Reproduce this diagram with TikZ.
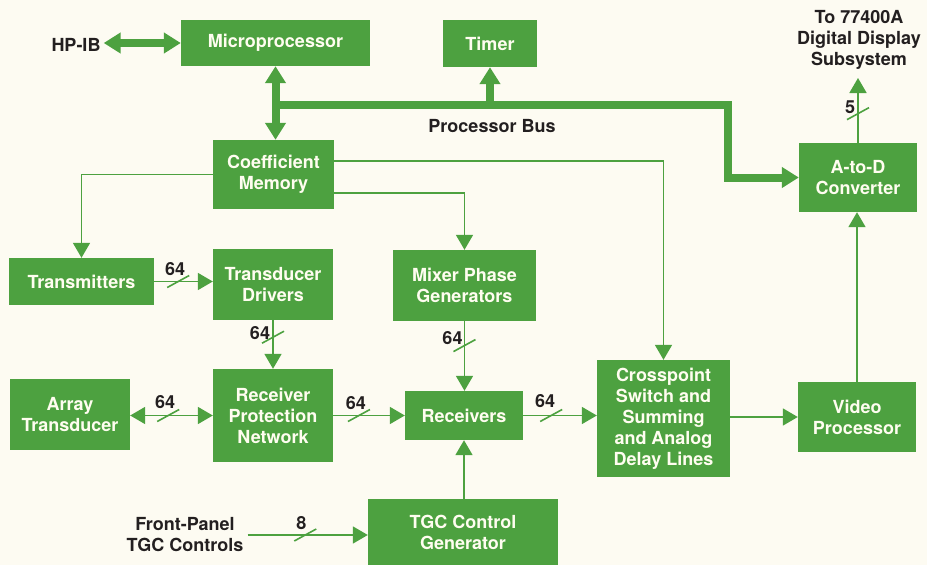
\documentclass[tikz,border=0pt]{standalone}
\usepackage{fontspec}
\setmainfont{TeX Gyre Heros}
\usetikzlibrary{arrows.meta,calc}
\definecolor{hpgreen}{RGB}{77,161,64}
\definecolor{paper}{RGB}{253,251,242}
\definecolor{ink}{RGB}{35,31,32}
\definecolor{boxtext}{RGB}{255,253,240}
\tikzset{
  thintip/.tip={Triangle[length=15pt,width=17pt]},
  bustip/.tip={Triangle[length=17pt,width=20pt]},
  box/.style={fill=hpgreen, text=boxtext, font=\fontsize{18}{21}\selectfont\bfseries, align=center, inner sep=0pt},
  lbl/.style={text=ink, font=\fontsize{18}{21}\selectfont\bfseries, align=center, inner sep=0pt},
  conn/.style={draw=hpgreen, line width=1.8pt},
  bus/.style={draw=hpgreen, line width=8pt},
  slashst/.style={draw=hpgreen, line width=1.6pt}
}
\begin{document}
\begin{tikzpicture}[x=1pt,y=-1pt]
\fill[paper] (0,0) rectangle (927,565);
\useasboundingbox (0,0) rectangle (927,565);

% boxes
\node[box,minimum width=189pt,minimum height=46pt] (micro) at (275.5,43) {Microprocessor};
\node[box,minimum width=94pt,minimum height=47pt] (timer) at (490,43.5) {Timer};
\node[box,minimum width=121pt,minimum height=69pt] (coef) at (273.5,174.5) {Coefficient\\Memory};
\node[box,minimum width=118pt,minimum height=69pt] (atod) at (858,177.5) {A-to-D\\Converter};
\node[box,minimum width=145pt,minimum height=47pt] (trans) at (81.5,281.5) {Transmitters};
\node[box,minimum width=120pt,minimum height=71pt] (drivers) at (273,284.5) {Transducer\\Drivers};
\node[box,minimum width=143pt,minimum height=71pt] (mixer) at (464.5,285.5) {Mixer Phase\\Generators};
\node[box,minimum width=120pt,minimum height=71pt] (array) at (70,414.5) {Array\\Transducer};
\node[box,minimum width=120pt,minimum height=93pt] (rpn) at (273,415.5) {Receiver\\Protection\\Network};
\node[box,minimum width=118pt,minimum height=49pt] (recv) at (464,415.5) {Receivers};
\node[box,minimum width=133pt,minimum height=117pt] (cross) at (663.5,418.5) {Crosspoint\\Switch and\\Summing\\and Analog\\Delay Lines};
\node[box,minimum width=118pt,minimum height=70pt] (video) at (857,417) {Video\\Processor};
\node[box,minimum width=190pt,minimum height=66pt] (tgc) at (463,532) {TGC Control\\Generator};

% free labels
\node[lbl] (hpib) at (76,45) {HP-IB};
\node[lbl] (pbus) at (492,126) {Processor Bus};
\node[lbl] (fp) at (185,535) {Front-Panel\\TGC Controls};
\node[lbl] (disp) at (859,40) {To 77400A\\Digital Display\\Subsystem};
\coordinate (outtip) at (858,78);

% processor bus (thick)
\draw[bus,{bustip}-{bustip}] ([xshift=3pt]hpib.east |- micro.west) -- (micro.west);
\draw[bus,{bustip}-{bustip}] (micro.south) -- (micro.south |- coef.north);
\coordinate (busL) at (micro.south |- 0,105);
\coordinate (busR) at (728,105);
\draw[bus,-{bustip}] (busL) -- (busR) |- (atod.west);
\draw[bus,-{bustip}] (timer.south |- busL) -- (timer.south);

% thin connectors
\draw[conn,-{thintip}] (coef.west) -| (trans.north);
\draw[conn,-{thintip}] ([yshift=-18.5pt]coef.east) -| (mixer.north);
\draw[conn,-{thintip}] ([yshift=13.5pt]coef.east) -| (cross.north);
\draw[conn,-{thintip}] (trans.east) -- coordinate[pos=0.41] (s1) (trans.east -| drivers.west);
\draw[conn,-{thintip}] (drivers.south) -- coordinate[pos=0.35] (s2) (rpn.north);
\draw[conn,{thintip}-{thintip}] (array.east |- rpn.west) -- coordinate[pos=0.46] (s3) (rpn.west);
\draw[conn,-{thintip}] (rpn.east |- recv.west) -- coordinate[pos=0.36] (s4) (recv.west);
\draw[conn,-{thintip}] (recv.east) -- coordinate[pos=0.38] (s5) (recv.east -| cross.west);
\draw[conn,-{thintip}] (mixer.south) -- coordinate[pos=0.35] (s6) (mixer.south |- recv.north);
\draw[conn,-{thintip}] (tgc.north -| recv.south) -- (recv.south);
\draw[conn,-{thintip}] ([xshift=4pt]fp.east) -- coordinate[pos=0.48] (s7) (fp.east -| tgc.west);
\draw[conn,-{thintip}] (cross.east |- video.west) -- (video.west);
\draw[conn,-{thintip}] (video.north) -- (video.north |- atod.south);
\draw[conn,-{thintip}] (atod.north) -- coordinate[pos=0.45] (s8) (outtip);

% bus-width slashes
\foreach \s in {s1,s2,s3,s4,s5,s6,s7,s8}
  \draw[slashst] ([shift={(-11,6)}]\s) -- ([shift={(11,-6)}]\s);

% bus-width labels
\node[lbl] (l1) at ([shift={(-3,-12)}]s1) {64};
\node[lbl] (l2) at ([shift={(-13,-4)}]s2) {64};
\node[lbl] (l3) at ([shift={(-3,-13)}]s3) {64};
\node[lbl] (l4) at ([shift={(-3,-12)}]s4) {64};
\node[lbl] (l5) at ([shift={(-6,-14)}]s5) {64};
\node[lbl] (l6) at ([shift={(-12,-7)}]s6) {64};
\node[lbl] (l7) at ([shift={(-4,-12)}]s7) {8};
\node[lbl] (l8) at ([shift={(-8,-6)}]s8) {5};
\end{tikzpicture}
\end{document}
